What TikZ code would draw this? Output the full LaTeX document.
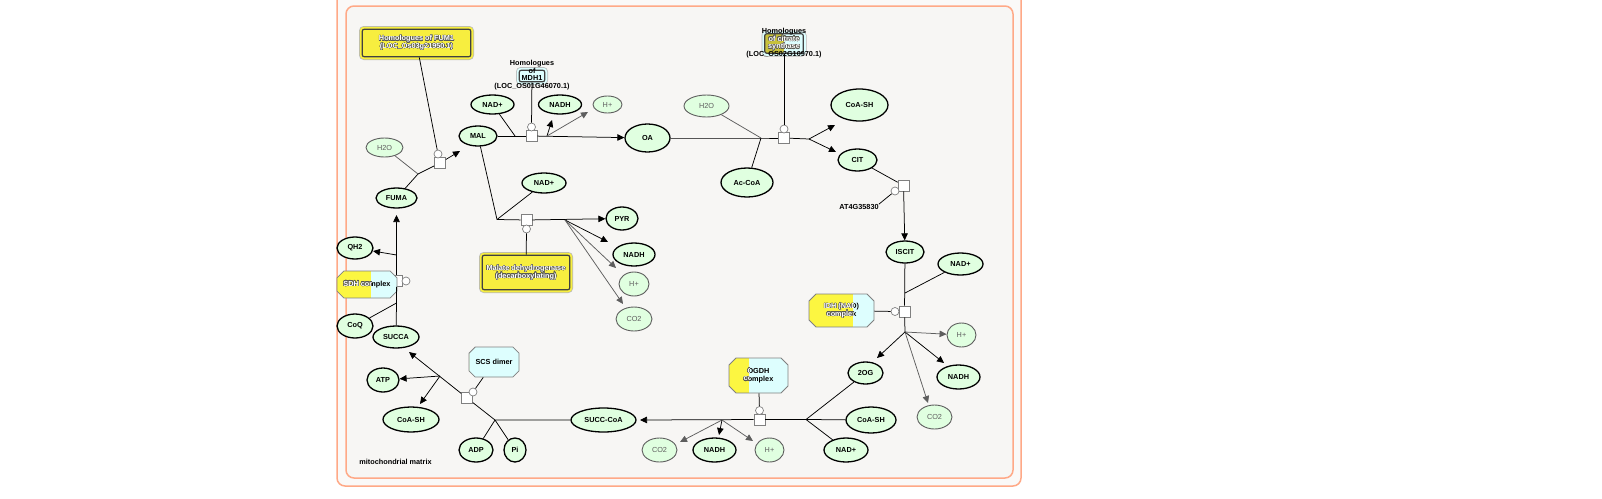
\documentclass[tikz,border=0pt]{standalone}
\usepackage{fontspec}
\setmainfont{Liberation Sans}
\usepackage[copies]{contour}
\usetikzlibrary{shapes.geometric,shapes.misc,arrows.meta,positioning,calc}

\definecolor{metgreen}{HTML}{E0FFE0}
\definecolor{sidegray}{HTML}{5E5E5E}
\definecolor{geneyellow}{HTML}{F7EE3F}
\definecolor{cplxyellow}{HTML}{FCF641}
\definecolor{cplxcyan}{HTML}{DDFEFE}
\definecolor{csolive}{HTML}{C8C13C}
\definecolor{framered}{HTML}{FFA987}
\definecolor{outerbg}{HTML}{FAF9F8}
\definecolor{innerbg}{HTML}{F7F6F4}
\definecolor{shade}{HTML}{5A5A52}
\contourlength{0.35pt}
\contournumber{24}

\begin{document}
\begin{tikzpicture}[x=1pt, y=-1pt,
    lbl/.style={font=\bfseries\fontsize{7.3}{7.6}\selectfont, align=center, inner sep=0pt},
    met/.style={ellipse, draw, line width=1.3pt, fill=metgreen, lbl, minimum width=43pt, minimum height=23pt},
    side/.style={met, draw=sidegray, line width=0.9pt, text=sidegray, font=\fontsize{7.3}{7.6}\selectfont},
    rxn/.style={rectangle, draw=gray, fill=white, line width=0.7pt, minimum size=11pt, inner sep=0pt},
    cat/.style={circle, draw=gray, fill=white, line width=0.7pt, minimum size=8pt, inner sep=0pt},
    gene/.style={rectangle, rounded corners=2pt, draw=darkgray, line width=1.2pt, fill=#1, lbl, text=white,
        preaction={draw=gray!55, line width=6.5pt}, preaction={draw=#1, line width=5pt}},
    cplx/.style={chamfered rectangle, chamfered rectangle xsep=3.5pt, chamfered rectangle ysep=3.5pt,
        draw=gray, line width=0.8pt, fill=cplxcyan, lbl,
        path picture={\fill[cplxyellow] (path picture bounding box.north west) rectangle ([xshift=#1]path picture bounding box.south west);}},
    conv/.style={line width=0.75pt},
    prod/.style={conv, -{Triangle[length=7pt, width=6.5pt]}},
    sidel/.style={conv, draw=sidegray},
    sideprod/.style={sidel, -{Triangle[length=7pt, width=6.5pt]}}
]
\useasboundingbox (0,0) rectangle (1602,498);

% compartment
\draw[framered, line width=1.5pt, fill=outerbg, rounded corners=8pt] (337,-12) rectangle (1021,486);
\draw[framered, line width=1.5pt, fill=innerbg, rounded corners=8pt] (346,6) rectangle (1013,478);
\node[lbl] (matrix) at (395.5,461.5) {mitochondrial matrix};

% metabolites
\node[met, minimum width=41pt, minimum height=20pt] (fuma) at (396.5,198) {FUMA};
\node[side, minimum width=37pt, minimum height=19pt] (h2oa) at (384.5,147.5) {H2O};
\node[met, minimum width=38pt, minimum height=20pt] (mal) at (478,136) {MAL};
\node[met, minimum height=19pt] (nada) at (492.5,104.5) {NAD+};
\node[met, minimum height=19pt] (nadha) at (560,104.5) {NADH};
\node[side, minimum width=29pt, minimum height=17pt] (hpa) at (607.5,104.5) {H+};
\node[met, minimum width=45pt, minimum height=28pt] (oa) at (647.5,138) {OA};
\node[met, minimum width=44pt, minimum height=20pt] (nadb) at (544,183) {NAD+};
\node[met, minimum width=32pt] (pyr) at (622,218.5) {PYR};
\node[met, minimum width=42pt] (nadhb) at (634,254.5) {NADH};
\node[side, minimum width=30pt, minimum height=24pt] (hpb) at (634,284) {H+};
\node[side, minimum width=36pt, minimum height=24pt] (co2b) at (634,319) {CO2};
\node[side, minimum width=45pt, minimum height=22pt] (h2ob) at (706.5,106) {H2O};
\node[met, minimum width=52pt, minimum height=29pt] (accoa) at (747,182.5) {Ac-CoA};
\node[met, minimum width=57pt, minimum height=32pt] (coasha) at (859.5,105) {CoA-SH};
\node[met, minimum width=39pt, minimum height=22pt] (cit) at (857.5,160) {CIT};
\node[met, minimum width=38pt, minimum height=22pt] (iscit) at (905,252) {ISCIT};
\node[met, minimum width=45pt, minimum height=22pt] (nadc) at (960.5,264) {NAD+};
\node[side, minimum width=29pt, minimum height=24pt] (hpc) at (961.5,335) {H+};
\node[met, minimum width=35pt, minimum height=22pt] (og) at (865.5,373) {2OG};
\node[met, minimum width=43pt, minimum height=24pt] (nadhc) at (958.5,377) {NADH};
\node[side, minimum width=35pt, minimum height=24pt] (co2c) at (934.5,417) {CO2};
\node[met, minimum width=50pt, minimum height=26pt] (coashb) at (871,420) {CoA-SH};
\node[met, minimum width=44pt, minimum height=24pt] (nadd) at (846,450) {NAD+};
\node[side, minimum width=29pt, minimum height=24pt] (hpd) at (769.5,450) {H+};
\node[met, minimum width=43pt, minimum height=24pt] (nadhd) at (714.5,450) {NADH};
\node[side, minimum width=35pt, minimum height=24pt] (co2d) at (659.5,450) {CO2};
\node[met, minimum width=65pt, minimum height=24pt] (succoa) at (603.5,420) {SUCC-CoA};
\node[met, minimum width=22pt, minimum height=24pt] (pi) at (515,450) {Pi};
\node[met, minimum width=34pt, minimum height=24pt] (adp) at (476,450) {ADP};
\node[met, minimum width=56pt, minimum height=25pt] (coashc) at (411,419.5) {CoA-SH};
\node[met, minimum width=32pt, minimum height=24pt] (atp) at (383,380) {ATP};
\node[met, minimum width=46pt, minimum height=22pt] (succa) at (396,337) {SUCCA};
\node[met, minimum width=36pt, minimum height=24pt] (coq) at (355,326) {CoQ};
\node[met, minimum width=36pt, minimum height=22pt] (qh2) at (355,248) {QH2};

% reaction anchors
\node[rxn] (fumsq) at (440,163) {};
\node[cat] (fumci) at (438,154) {};
\node[rxn] (mdhsq) at (531.5,136) {};
\node[cat] (mdhci) at (531.5,127) {};
\node[rxn] (mesq) at (526.5,220) {};
\node[cat] (meci) at (526.5,229) {};
\node[rxn] (cssq) at (784,138) {};
\node[cat] (csci) at (784,129) {};
\node[rxn] (acosq) at (903.5,185.5) {};
\node[cat] (acoci) at (895,191) {};
\node[rxn] (idhsq) at (904.5,311.5) {};
\node[cat] (idhci) at (895,311.5) {};
\node[rxn] (ogsq) at (759.5,419.5) {};
\node[cat] (ogci) at (759.5,410.5) {};
\node[rxn] (scssq) at (467,398) {};
\node[cat] (scsci) at (473,392) {};
\node[rxn] (sdhsq) at (396.5,281) {};
\node[cat] (sdhci) at (406,281) {};

% gene products
\node[gene=geneyellow, minimum width=108.5pt, minimum height=27.5pt] (fum1) at (416.5,43)
  {\contour{shade}{Homologues of FUM1}\\\contour{shade}{(LOC\_Os03g21950.1)}};
\node[gene=geneyellow, minimum width=87.5pt, minimum height=34.5pt] (mde) at (526,272.5)
  {\contour{shade}{Malate dehydrogenase}\\\contour{shade}{(decarboxylating)}};
\node[gene=cplxcyan, minimum width=25.5pt, minimum height=11.5pt] (mdhgene) at (532,76) {};
\node[lbl, text=black] (mdhlbl) at (532,75) {Homologues\\of\\MDH1\\(LOC\_OS01G46070.1)};
\node[gene=cplxcyan, minimum width=38.5pt, minimum height=19.5pt,
  path picture={\fill[csolive] (path picture bounding box.north west) rectangle ([xshift=19pt]path picture bounding box.south west);}] (csgene) at (784,43.5) {};
\node[lbl] (cslbl) at (784,43) {Homologues\\\textcolor{white}{\contour{shade}{of citrate}}\\\textcolor{white}{\contour{shade}{synthase}}\\(LOC\_OS02G10970.1)};
\node[lbl] (atlbl) at (859,207) {AT4G35830};
\node[cplx=44pt, minimum width=65pt, minimum height=33pt] (idh) at (841.5,310.5) {IDH (NAD)\\complex};
\node[cplx=20pt, minimum width=59pt, minimum height=35pt] (ogdh) at (758.5,375.5) {OGDH\\complex};
\node[cplx=0pt, minimum width=50pt, minimum height=30pt] (scs) at (494,362) {SCS dimer};
\node[cplx=34pt, minimum width=60pt, minimum height=27pt] (sdh) at (367,284.5) {SDH complex};

% junctions and free arrow ends
\coordinate (fumin) at (418,174);
\coordinate (fumtip) at (460,151);
\coordinate (mdhin) at (515,136);
\coordinate (mdhout) at (547,136);
\coordinate (mdhtipn) at (552,120);
\coordinate (mdhtiph) at (588,112);
\coordinate (mein) at (497,219.5);
\coordinate (meout) at (565,220);
\coordinate (metipn) at (608,242);
\coordinate (metiph) at (616,268);
\coordinate (metipc) at (623,304);
\coordinate (csin) at (761,138);
\coordinate (csout) at (809,139);
\coordinate (cstipa) at (835,125);
\coordinate (cstipc) at (836,152);
\coordinate (idhin) at (905,293);
\coordinate (idhout) at (905,332);
\coordinate (idhtipo) at (877,358);
\coordinate (idhtipn) at (944,363);
\coordinate (idhtipc) at (928,403);
\coordinate (ogin) at (806,419.5);
\coordinate (ogout) at (722,420);
\coordinate (ogtips) at (640,420);
\coordinate (ogtipc) at (680,442);
\coordinate (ogtipn) at (719,435);
\coordinate (ogtiph) at (753,441);
\coordinate (scsin) at (495,420);
\coordinate (scsout) at (440,376);
\coordinate (scstips) at (409,352);
\coordinate (scstipc) at (420,404);
\coordinate (sdhin) at (396.5,303);
\coordinate (sdhout) at (396.5,255);
\coordinate (sdhtip) at (396.5,215);

% fumarase
\draw[conv] (fuma) -- (fumin) -- (fumsq);
\draw[sidel] (h2oa) -- (fumin);
\draw[prod] (fumsq) -- (fumtip);
\draw[conv] (fum1) -- (fumci);

% malate dehydrogenase
\draw[conv] (mal) -- (mdhsq);
\draw[conv] (nada) -- (mdhin);
\draw[prod] (mdhsq) -- (oa);
\draw[prod] (mdhout) -- (mdhtipn);
\draw[sideprod] (mdhout) -- (mdhtiph);
\draw[conv] (mdhgene) -- (mdhci);

% malic enzyme
\draw[conv] (mal) -- (mein) -- (mesq);
\draw[conv] (nadb) -- (mein);
\draw[prod] (mesq) -- (pyr);
\draw[prod] (meout) -- (metipn);
\draw[sideprod] (meout) -- (metiph);
\draw[sideprod] (meout) -- (metipc);
\draw[conv] (mde) -- (meci);

% citrate synthase
\draw[conv] (oa) -- (csin) -- (cssq);
\draw[sidel] (h2ob) -- (csin);
\draw[conv] (accoa) -- (csin);
\draw[conv] (cssq) -- (csout);
\draw[prod] (csout) -- (cstipa);
\draw[prod] (csout) -- (cstipc);
\draw[conv] (csgene) -- (csci);

% aconitase
\draw[conv] (cit) -- (acosq);
\draw[prod] (acosq) -- (iscit);
\draw[conv] (atlbl.north east) -- (acoci);

% isocitrate dehydrogenase
\draw[conv] (iscit) -- (idhsq);
\draw[conv] (nadc) -- (idhin);
\draw[conv] (idhsq) -- (idhout);
\draw[sideprod] (idhout) -- (hpc);
\draw[prod] (idhout) -- (idhtipo);
\draw[prod] (idhout) -- (idhtipn);
\draw[sideprod] (idhout) -- (idhtipc);
\draw[conv] (idh) -- (idhci);

% 2-oxoglutarate dehydrogenase
\draw[conv] (og) -- (ogin);
\draw[conv] (coashb) -- (ogin);
\draw[conv] (nadd) -- (ogin);
\draw[conv] (ogin) -- (ogsq);
\draw[prod] (ogsq) -- (ogtips);
\draw[sideprod] (ogout) -- (ogtipc);
\draw[prod] (ogout) -- (ogtipn);
\draw[sideprod] (ogout) -- (ogtiph);
\draw[conv] (ogdh) -- (ogci);

% succinyl-CoA synthetase
\draw[conv] (succoa) -- (scsin) -- (scssq);
\draw[conv] (adp) -- (scsin);
\draw[conv] (pi) -- (scsin);
\draw[prod] (scssq) -- (scstips);
\draw[prod] (scsout) -- (atp);
\draw[prod] (scsout) -- (scstipc);
\draw[conv] (scs) -- (scsci);

% succinate dehydrogenase
\draw[conv] (succa) -- (sdhin) -- (sdhsq);
\draw[conv] (coq) -- (sdhin);
\draw[prod] (sdhsq) -- (sdhtip);
\draw[prod] (sdhout) -- (qh2);

% white text over the yellow part of the complexes
\begin{scope}
  \clip (337,270) rectangle (371,299);
  \node[lbl, text=white] (sdhw) at (sdh.center) {\contour{shade}{SDH complex}};
\end{scope}
\begin{scope}
  \clip (808,293) rectangle (853,328);
  \node[lbl, text=white] (idhw) at (idh.center) {\contour{shade}{IDH (NAD)}\\\contour{shade}{complex}};
\end{scope}
\begin{scope}
  \clip (728,357) rectangle (749,394);
  \node[lbl, text=white] (ogdhw) at (ogdh.center) {\contour{shade}{OGDH}\\\contour{shade}{complex}};
\end{scope}

\end{tikzpicture}
\end{document}
